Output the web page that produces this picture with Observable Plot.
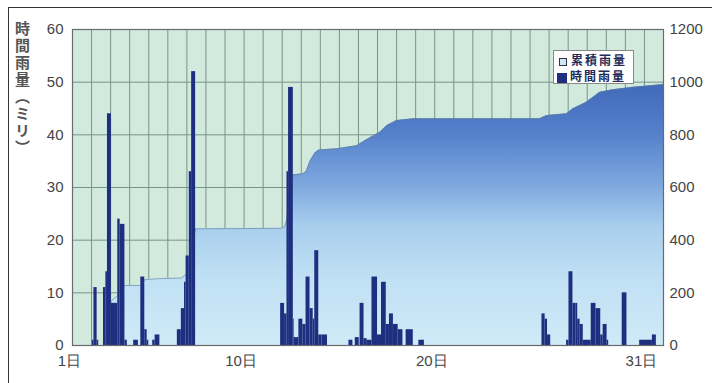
<!DOCTYPE html>
<html><head><meta charset="utf-8">
<script src="https://cdn.jsdelivr.net/npm/d3@7"></script>
<script src="https://cdn.jsdelivr.net/npm/@observablehq/plot@0.6"></script>
<style>
body{margin:0;background:#fff;}
#wrap{position:relative;width:712px;height:383px;overflow:hidden;font-family:"Liberation Sans",Arial,sans-serif;}
#wrap svg{position:absolute;left:0;top:0;}
#scanTop{position:absolute;left:9px;top:7px;width:703px;height:0;border-top:1.5px solid #333;}
#scanLeft{position:absolute;left:8px;top:7px;width:0;height:376px;border-left:1.5px solid #333;}
#ytitle{position:absolute;left:15px;top:21px;writing-mode:vertical-rl;font-family:"Noto Sans CJK JP",sans-serif;font-size:15px;letter-spacing:2px;color:#555;font-weight:700;line-height:1;}
#legend{position:absolute;left:553px;top:50px;width:81px;height:34px;background:#fff;border:1px solid #888;box-sizing:border-box;font-family:"Noto Sans CJK JP",sans-serif;font-size:12px;font-weight:700;color:#1d2a5a;}
#legend .row{position:absolute;left:3px;height:14px;line-height:14px;white-space:nowrap;letter-spacing:2px;}
#legend .sw{display:inline-block;vertical-align:middle;margin-right:3px;}
</style></head><body>
<div id="wrap">
<div id="scanTop"></div><div id="scanLeft"></div>
<div id="ytitle">時間雨量（ミリ）</div>
<div id="legend">
  <div class="row" style="top:2px"><span class="sw" style="width:6px;height:6px;border:1px solid #334;background:#cfe8f4;margin-left:2px;margin-right:4px"></span>累積雨量</div>
  <div class="row" style="top:18px"><span class="sw" style="width:10px;height:10px;background:#1f2f80"></span>時間雨量</div>
</div>
</div>
<script>
// ---- data ----
const dayTicks = [1, 10, 20, 31];
const dayTickLabels = ["1日", "10日", "20日", "31日"];
const leftTicks = [0, 10, 20, 30, 40, 50, 60];
const rightTickLabels = ["0", "200", "400", "600", "800", "1000", "1200"];

// hourly rainfall (mm): start hour, end hour (hours from the 1st, 0:00), amount
const hourlyStart = [25,27,31, 39,42,44,49,57,60,66, 77,86,91,94,101,104, 132,137,141,143,147,150,
  262,267,270,272,278,279,285,290,294,299,303,305,310,314,
  348,356,362,367,371,377,384,389,395,399,404,410,420,436,
  591,595,598,622,625,630,634,636,639,643,653,659,665,668,673,692,714,730];
const hourlyEnd = [27,31,33, 42,44,49,57,60,66,69, 83,91,94,96,104,110, 137,141,143,147,150,155,
  267,270,272,278,279,285,290,294,299,303,305,310,314,321,
  353,361,367,371,377,384,389,395,399,404,410,416,429,443,
  595,598,602,625,630,634,636,639,643,653,659,665,668,673,675,698,730,735];
const hourlyMm = [1,11,1, 11,14,44,8,24,23,1, 1,13,3,1,1,2, 3,7,12,17,33,52,
  8,6,33,49,5,1.5,5,4,13,7,5,18,2,2,
  1,1.5,8,1.3,1,13,2,12,4,6,4,3,3,1,
  6,5,2,1,14,8,8,5,4,1,8,7,2,4,1,10,1,2];

// cumulative rainfall (mm)
const cumHour = [0,39,42,44,49,57,60,66,86,91,110,137,143,147,150,155,262,267,270,272,278,290,294,299,305,310,333,358,368,387,396,408,429,588,597,622,630,647,664,680,706,744];
const cumMm   = [0,0,20,60,170,190,210,228,228,250,254,256,270,300,380,443,445,450,480,560,648,652,660,700,730,742,747,759,778,810,835,854,861,861,873,880,899,924,962,971,981,991];

// ---- build ----
const hourly = hourlyStart.map((s, i) => ({x1: s, x2: hourlyEnd[i], mm: hourlyMm[i]}));
const cum = cumHour.map((h, i) => ({h, mm: cumMm[i]}));
const ratio = 1200 / 60;

const plot = Plot.plot({
  width: 712, height: 383,
  marginLeft: 72, marginRight: 49, marginTop: 29, marginBottom: 38,
  x: {domain: [0, 744]},
  y: {domain: [0, 60]},
  style: {fontFamily: "'Liberation Sans', Arial, sans-serif", fontSize: "15px", color: "#444", background: "transparent", overflow: "visible"},
  marks: [
    Plot.frame({fill: "#d2eadd"}),
    Plot.gridX(d3.range(0, 745, 24), {stroke: "#76948a", strokeOpacity: 1, strokeWidth: 1}),
    Plot.gridY(leftTicks, {stroke: "#76948a", strokeOpacity: 1, strokeWidth: 1}),
    Plot.areaY(cum, {x: "h", y: d => d.mm / ratio, fill: "url(#cumGrad)"}),
    Plot.lineY(cum, {x: "h", y: d => d.mm / ratio, stroke: "#5f7f9a", strokeWidth: 1, strokeOpacity: 0.6}),
    Plot.rectY(hourly, {x1: "x1", x2: "x2", y: "mm", fill: "#1f2f80", inset: 0}),
    Plot.axisY(leftTicks, {anchor: "left", tickSize: 0, tickPadding: 9, label: null, fill: "#444"}),
    Plot.axisY(leftTicks, {anchor: "right", tickSize: 0, tickPadding: 6, label: null, fill: "#444",
      tickFormat: d => rightTickLabels[leftTicks.indexOf(d)]}),
    Plot.axisX(dayTicks.map(d => (d - 1) * 24), {anchor: "bottom", tickSize: 0, tickPadding: 10, label: null, fill: "#444", dx: -3,
      tickFormat: d => dayTickLabels[dayTicks.indexOf(d / 24 + 1)]}),
    Plot.frame({stroke: "#6a6a6a", strokeWidth: 1.2})
  ]
});

// gradient for the cumulative area
const ys = plot.scale("y");
const svg = d3.select(plot.tagName.toLowerCase() === "svg" ? plot : plot.querySelector("svg"));
const grad = svg.insert("defs", ":first-child").append("linearGradient")
  .attr("id", "cumGrad").attr("gradientUnits", "userSpaceOnUse")
  .attr("x1", 0).attr("x2", 0).attr("y1", ys.apply(50)).attr("y2", ys.apply(0));
[[0, "#4068b9"], [0.2, "#5581cb"], [0.4, "#80aadf"], [0.55, "#a9cfee"], [0.75, "#c0e0f4"], [1, "#cfeaf7"]]
  .forEach(([o, c]) => grad.append("stop").attr("offset", o).attr("stop-color", c));

document.getElementById("wrap").prepend(plot);
</script>
</body></html>
